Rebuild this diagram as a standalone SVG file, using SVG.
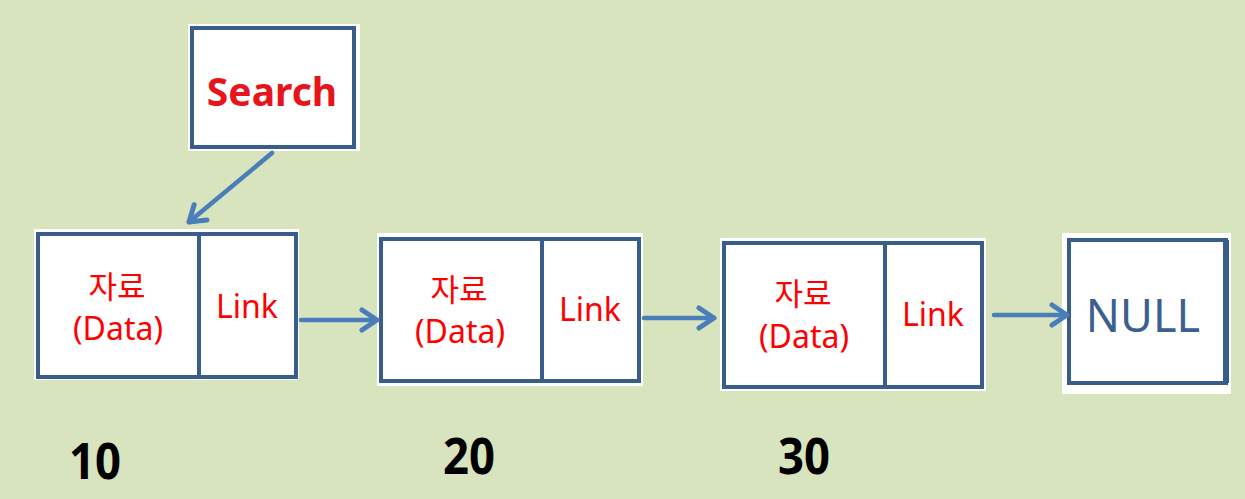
<svg xmlns="http://www.w3.org/2000/svg" width="1245" height="499" viewBox="0 0 1245 499">
<style>
.bg{fill:#ffffff}
.box{fill:#ffffff;stroke:#385D8A;stroke-width:4}
.div{stroke:#385D8A;stroke-width:4}
.t{font-family:"Noto Sans","Noto Sans CJK KR",sans-serif;fill:#FF0000;font-size:32px;text-anchor:middle}
.k{font-family:"Noto Sans CJK KR","Noto Sans",sans-serif;fill:#FF0000;font-size:31px;text-anchor:middle}
.num{font-family:"Noto Sans","Liberation Sans",sans-serif;font-weight:bold;font-size:50px;fill:#000000;text-anchor:middle}
.con{stroke:#4A7EBB;stroke-width:4.5;fill:none;stroke-linecap:round}
</style>
<defs>
<marker id="arr" markerUnits="userSpaceOnUse" markerWidth="30" markerHeight="30" viewBox="-20 -15 24 30" refX="0" refY="0" orient="auto">
<path d="M-15,-10 L0,0 L-15,10" fill="none" stroke="#4A7EBB" stroke-width="5" stroke-linecap="round" stroke-linejoin="round"/>
</marker>
</defs>
<rect width="1245" height="499" fill="#D7E4BD"/>
<g id="search">
<rect class="bg" x="188" y="24" width="172" height="127"/>
<rect class="box" x="192" y="28" width="162" height="119"/>
<text x="272" y="106" font-family="'Noto Sans',sans-serif" font-weight="bold" font-size="39" fill="#E8141C" text-anchor="middle">Search</text>
</g>
<g id="node1">
<rect class="bg" x="34" y="229" width="265" height="151"/>
<rect class="box" x="38" y="234" width="258" height="143"/>
<line class="div" x1="199" y1="234" x2="199" y2="377"/>
<text class="k" x="117" y="298">자료</text>
<text class="t" x="118" y="340">(Data)</text>
<text class="t" x="247" y="318">Link</text>
</g>
<g id="node2">
<rect class="bg" x="377" y="233" width="266" height="153"/>
<rect class="box" x="381" y="239" width="258" height="142"/>
<line class="div" x1="542" y1="239" x2="542" y2="381"/>
<text class="k" x="459" y="301">자료</text>
<text class="t" x="460" y="343">(Data)</text>
<text class="t" x="590" y="321">Link</text>
</g>
<g id="node3">
<rect class="bg" x="720" y="238" width="266" height="153"/>
<rect class="box" x="724" y="243" width="258" height="144"/>
<line class="div" x1="885" y1="243" x2="885" y2="387"/>
<text class="k" x="803" y="305">자료</text>
<text class="t" x="804" y="348">(Data)</text>
<text class="t" x="933" y="326">Link</text>
</g>
<g id="null">
<rect class="bg" x="1062" y="233" width="169" height="161"/>
<rect class="box" x="1069" y="240" width="157" height="143"/>
<line x1="1226" y1="240" x2="1226" y2="383" stroke="#385D8A" stroke-width="6"/>
<text x="1143" y="332" font-family="'Noto Sans',sans-serif" font-size="45" fill="#3B5F8E" text-anchor="middle">NULL</text>
</g>
<g id="connectors">
<line class="con" x1="272" y1="153" x2="189" y2="222" marker-end="url(#arr)"/>
<line class="con" x1="301" y1="320" x2="377" y2="320" marker-end="url(#arr)"/>
<line class="con" x1="644" y1="318" x2="714" y2="318" marker-end="url(#arr)"/>
<line class="con" x1="994" y1="315" x2="1067" y2="315" marker-end="url(#arr)"/>
</g>
<g id="labels">
<text class="num" x="95" y="479" textLength="52" lengthAdjust="spacingAndGlyphs">10</text>
<text class="num" x="469" y="474" textLength="52" lengthAdjust="spacingAndGlyphs">20</text>
<text class="num" x="804" y="474" textLength="52" lengthAdjust="spacingAndGlyphs">30</text>
</g>
</svg>
